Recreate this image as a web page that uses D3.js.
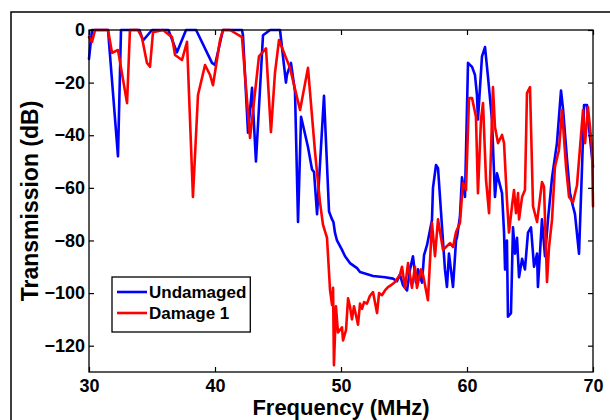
<!DOCTYPE html>
<html><head><meta charset="utf-8">
<script src="https://cdn.jsdelivr.net/npm/d3@7/dist/d3.min.js"></script>
<style>
html,body{margin:0;padding:0;background:#fff;}
text{font-family:"Liberation Sans",Arial,sans-serif;font-weight:bold;fill:#000;}
</style></head>
<body>
<svg id="chart" width="610" height="420"></svg>
<script>
// ---- data (frequency MHz, transmission dB) ----
const undamagedFreq = [30.00,30.24,31.51,32.30,32.54,34.00,34.29,35.00,36.30,36.98,37.70,38.50,39.76,40.00,40.63,42.14,42.22,42.62,42.94,43.25,43.81,44.37,45.16,45.63,45.71,46.03,46.35,46.59,46.83,47.38,47.70,47.86,48.10,48.65,49.05,49.29,49.40,49.52,49.68,50.08,50.32,50.71,51.27,51.51,52.54,53.50,54.13,54.44,54.68,54.92,55.24,55.48,55.71,55.95,56.11,56.43,56.59,56.83,57.22,57.30,57.54,57.70,58.02,58.25,58.41,58.57,58.89,59.13,59.21,59.44,59.60,59.84,60.08,60.40,60.63,60.79,60.87,61.19,61.43,61.67,61.98,62.22,62.38,62.78,62.94,63.02,63.17,63.25,63.49,63.65,63.81,63.97,64.13,64.37,64.60,64.84,65.08,65.32,65.56,65.63,65.95,66.19,66.43,66.75,67.14,67.46,67.62,67.94,68.17,68.41,68.57,68.89,69.13,69.29,69.52,69.68,70.00];
const undamagedDb = [-11,0,0,-48,0,0,-4,0,0,-8.5,0,0,-12.5,-13.3,0,0,-2,-39,-22,-50,-2,0,0,-20,-17,-12.5,-23.5,-73,-33,-44.5,-53,-54,-70,-25,-69,-72,-73,-77,-80,-83.6,-86,-88.6,-90.5,-92,-93.5,-94,-94.5,-95.5,-93,-97,-99,-91,-86,-96,-91,-96,-85.6,-81.7,-72.2,-60,-51.3,-52.5,-75,-91,-97.7,-85,-97.7,-80,-78.7,-71,-56,-63.5,-12.5,-14,-17,-24.7,-34,-10,-6.5,-18,-34,-63.5,-54.5,-62,-77,-91,-80,-109,-107.6,-75,-85,-79,-94,-87,-91,-77,-75,-90,-85,-97.7,-72,-86,-72,-56,-43,-23,-30,-49.4,-62,-67,-70,-85,-52,-28.5,-28.5,-37,-52];

const damageFreq = [30.00,30.24,30.48,31.51,31.83,32.30,33.02,33.25,33.89,34.21,34.60,34.84,35.08,35.87,36.59,36.83,37.38,37.78,38.25,38.65,39.21,39.60,39.84,40.40,40.63,41.19,42.14,42.78,43.49,44.05,44.44,44.76,45.08,45.95,46.75,47.38,47.94,48.33,48.57,48.89,49.13,49.29,49.37,49.44,49.60,49.76,50.08,50.16,50.40,50.56,50.71,50.87,51.03,51.19,51.35,51.51,51.67,51.83,52.06,52.30,52.54,52.86,53.02,53.25,53.49,53.73,53.97,54.29,54.68,54.84,55.08,55.32,55.63,55.87,56.03,56.35,56.51,56.90,57.22,57.46,57.70,58.10,58.33,58.65,58.89,59.13,59.44,59.68,59.92,60.16,60.40,60.71,60.87,61.11,61.27,61.51,61.75,62.06,62.22,62.46,62.78,62.94,63.17,63.33,63.57,63.73,63.89,64.05,64.13,64.37,64.60,64.76,65.00,65.24,65.56,65.95,66.11,66.35,66.51,66.75,66.98,67.30,67.54,67.86,68.10,68.41,68.73,69.21,69.37,69.60,69.92,70.00];
const damageDb = [-2.7,-4.5,0,0,-8.7,-7.6,-27.8,0,0,-3,-12.5,-14,-0.8,0,-2.7,-9.5,-11.4,-4.5,-63.5,-24.7,-13.3,-17,-21,-3.8,0,0,-2.7,-41,-10,-7,-38.8,-16.3,-3.8,-14.4,-30.4,-14.4,-46.4,-65.4,-74,-79,-98.9,-104.6,-98,-127.4,-105,-115,-113,-118,-114,-102,-105,-110,-105,-108.4,-112,-104,-106,-103.4,-104,-101,-99.6,-107.6,-100,-100.8,-99,-97.7,-97,-95.8,-93,-90,-98,-88.6,-98,-90,-98,-91,-93,-102.7,-73.4,-86,-72,-83.6,-82.5,-81,-82.5,-76.8,-73.4,-58.2,-60.8,-25.9,-25.9,-33,-62,-34,-27.8,-57,-69.6,-21.7,-36.9,-43,-39.9,-43,-64.6,-77,-67,-60.8,-69.6,-62,-72,-63.5,-60.8,-24,-21.7,-67,-73,-57.8,-59.5,-95.8,-82.5,-72,-52,-45.6,-30.4,-52,-63.5,-65.5,-59,-30.4,-43,-29.3,-44.5,-67];

const xTicks = [30,40,50,60,70];
const yTicks = [0,-20,-40,-60,-80,-100,-120];
const seriesNames = ["Undamaged","Damage 1"];
const seriesColors = ["#0000ff","#ff0000"];

// ---- layout ----
const svg = d3.select("#chart");
const L = 89, R = 593, T = 30, B = 372;
const x = d3.scaleLinear().domain([30,70]).range([L,R]);
const y = d3.scaleLinear().domain([-130,0]).range([B,T]);

// outer figure frame
svg.append("rect").attr("x",11).attr("y",12).attr("width",640).attr("height",440)
  .attr("fill","none").attr("stroke","#000").attr("stroke-width",1.5);

const series = [
  undamagedFreq.map((f,i)=>[f,undamagedDb[i]]),
  damageFreq.map((f,i)=>[f,damageDb[i]])
];
const line = d3.line().x(d=>x(d[0])).y(d=>y(d[1]));
series.forEach((s,i)=>{
  svg.append("path").datum(s).attr("d",line).attr("fill","none")
    .attr("stroke",seriesColors[i]).attr("stroke-width",2.6)
    .attr("stroke-linejoin","round").attr("stroke-linecap","round");
});

// axes
const tl = 5;
const axB = svg.append("g").attr("transform",`translate(0,${B})`)
  .call(d3.axisBottom(x).tickValues(xTicks).tickSizeInner(-tl).tickSizeOuter(0).tickPadding(10));
const axT = svg.append("g").attr("transform",`translate(0,${T})`)
  .call(d3.axisTop(x).tickValues(xTicks).tickSizeInner(-tl).tickSizeOuter(0).tickFormat(""));
const axL = svg.append("g").attr("transform",`translate(${L},0)`)
  .call(d3.axisLeft(y).tickValues(yTicks).tickSizeInner(-tl).tickSizeOuter(0).tickPadding(4));
const axR = svg.append("g").attr("transform",`translate(${R},0)`)
  .call(d3.axisRight(y).tickValues(yTicks).tickSizeInner(-tl).tickSizeOuter(0).tickFormat(""));
[axB,axT,axL,axR].forEach(a=>{
  a.select(".domain").remove();
  a.selectAll("line").attr("stroke","#000").attr("stroke-width",1.2);
  a.selectAll("text").style("font-size","18px").style("font-weight","bold")
    .style("font-family","'Liberation Sans',Arial,sans-serif").attr("fill","#000");
});
axB.selectAll("text").attr("dy","0.71em").attr("y",7);
svg.append("rect").attr("x",L).attr("y",T).attr("width",R-L).attr("height",B-T)
  .attr("fill","none").attr("stroke","#000").attr("stroke-width",1.3);

// axis labels
svg.append("text").attr("x",(L+R)/2).attr("y",415).attr("text-anchor","middle")
  .style("font-size","22px").text("Frequency (MHz)");
svg.append("text").attr("transform",`translate(38,${(T+B)/2}) rotate(-90)`)
  .attr("text-anchor","middle").style("font-size","23px").text("Transmission (dB)");

// legend
const lg = svg.append("g");
const lbox = lg.append("rect").attr("x",112).attr("y",277).attr("height",55)
  .attr("fill","#fff").attr("stroke","#000").attr("stroke-width",1.3);
let maxW = 0;
seriesNames.forEach((n,i)=>{
  const yy = 292 + i*21;
  lg.append("line").attr("x1",117).attr("x2",147).attr("y1",yy).attr("y2",yy)
    .attr("stroke",seriesColors[i]).attr("stroke-width",2.6);
  const t = lg.append("text").attr("x",149).attr("y",yy).attr("dy","0.36em")
    .style("font-size","17px").text(n);
  maxW = Math.max(maxW, t.node().getComputedTextLength());
});
lbox.attr("width",149+maxW+4-112);
</script>
</body></html>
